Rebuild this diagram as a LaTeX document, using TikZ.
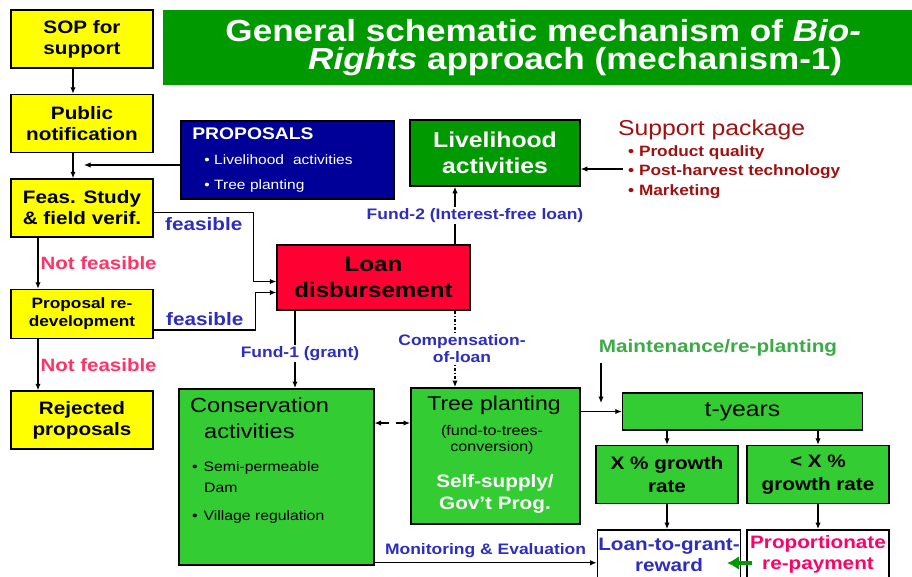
\documentclass[tikz,border=0pt]{standalone}
\usepackage{fontspec}
\setmainfont{Liberation Sans}[FakeStretch=1.15]
\usepackage{tikz}
\usetikzlibrary{calc, positioning, arrows.meta}

\definecolor{boxyellow}{RGB}{255,255,0}
\definecolor{titlegreen}{RGB}{0,153,0}
\definecolor{leafgreen}{RGB}{51,204,51}
\definecolor{loanred}{RGB}{255,0,51}
\definecolor{propblue}{RGB}{0,0,153}
\definecolor{lblblue}{RGB}{45,45,190}
\definecolor{nfpink}{RGB}{255,51,102}
\definecolor{prpink}{RGB}{255,0,102}
\definecolor{suppred}{RGB}{160,16,16}
\definecolor{maintgreen}{RGB}{60,170,70}

\begin{document}
\begin{tikzpicture}
		[x=1pt, y=-1pt,
		box/.style={rectangle, draw=black, line width=1.5pt, align=center, inner sep=1pt},
		sidebox/.style={box, fill=boxyellow, minimum width=142pt, minimum height=58pt,
			font=\fontsize{18}{21}\selectfont\bfseries},
		greenbox/.style={box, fill=leafgreen},
		lbl/.style={font=\fontsize{15.2}{17}\selectfont\bfseries, text=lblblue, align=center, inner sep=1pt},
		feaslbl/.style={font=\fontsize{18}{20}\selectfont\bfseries, text=lblblue, inner sep=1pt},
		nflbl/.style={font=\fontsize{17.8}{20}\selectfont\bfseries, text=nfpink, inner sep=1pt},
		arr/.style={-{Latex[length=6.5pt,width=5.5pt]}, line width=1.2pt},
		garr/.style={-{Latex[length=12pt,width=14pt]}, line width=4pt, titlegreen}]
		\useasboundingbox (0,0) rectangle (912,576);

		% nodes %
		\node[fill=titlegreen, anchor=north west, minimum width=760pt, minimum height=75pt, text=white,
			align=center, font=\fontsize{30.5}{28}\selectfont\bfseries] (title) at (163,10)
			{General schematic mechanism of \textit{Bio-}\\\hspace*{64pt}\textit{Rights} approach (mechanism-1)};

		\node[sidebox] (sop) at (82,39) {SOP for\\support};
		\node[sidebox, below=25pt of sop] (pub) {Public\\notification};
		\node[sidebox, below=25pt of pub] (feas) {Feas. Study\\\& field verif.};
		\node[sidebox, below=51pt of feas, minimum height=49pt, font=\fontsize{15}{18}\selectfont\bfseries] (redev) {Proposal re-\\development};
		\node[sidebox, below=51pt of redev] (rej) {Rejected\\proposals};

		\node[box, fill=propblue, anchor=north west, minimum width=213pt, minimum height=78pt, text width=190pt,
			align=left, text=white, font=\fontsize{13.5}{25}\selectfont] (props) at (180,120)
			{{\fontsize{16.8}{19}\selectfont\bfseries PROPOSALS}\\
			\hspace*{12pt}\textbullet\ Livelihood\ \ activities\\
			\hspace*{12pt}\textbullet\ Tree planting};

		\node[box, fill=titlegreen, text=white, minimum width=170pt, minimum height=66pt,
			font=\fontsize{21.5}{26}\selectfont\bfseries] (liv) at (495,153) {Livelihood\\activities};

		\node[anchor=base west, inner sep=0pt, text=suppred, font=\fontsize{21.5}{24}\selectfont] (supp) at (618,135) {Support package};
		\node[anchor=north west, inner sep=0pt, align=left, text=suppred, font=\fontsize{15}{19.5}\selectfont\bfseries] (supplist) at (628,145)
			{\textbullet\ Product quality\\\textbullet\ Post-harvest technology\\\textbullet\ Marketing};

		\node[box, fill=loanred, minimum width=193pt, minimum height=65pt,
			font=\fontsize{21}{26}\selectfont\bfseries] (loan) at (373.5,277.5) {Loan\\disbursement};

		\node[greenbox, anchor=north west, minimum width=195pt, minimum height=176pt] (cons) at (178,388) {};
		\node[anchor=north west, inner sep=0pt, align=left, font=\fontsize{20.5}{26}\selectfont] (constxt) at (190,397)
			{Conservation\\\hspace*{14pt}activities};
		\node[anchor=north west, inner sep=0pt, align=left, font=\fontsize{13.7}{21}\selectfont] (consbul) at (192,461)
			{\textbullet\hspace{6pt}Semi-permeable\\\hspace*{12pt}Dam\\[7pt]\textbullet\hspace{6pt}Village regulation};

		\node[greenbox, anchor=north west, minimum width=169pt, minimum height=136pt] (tree) at (410,387) {};
		\node[anchor=base, inner sep=0pt, font=\fontsize{20}{24}\selectfont] (treetxt) at (494,410) {Tree planting};
		\node[inner sep=0pt, align=center, font=\fontsize{14}{15.5}\selectfont] (treeconv) at (492,440) {(fund-to-trees-\\conversion)};
		\node[inner sep=0pt, align=center, text=white, font=\fontsize{18}{22}\selectfont\bfseries] (treeself) at (495,494) {Self-supply/\\Gov’t Prog.};

		\node[greenbox, minimum width=240pt, minimum height=37pt, font=\fontsize{21.5}{24}\selectfont] (tyr) at (742.5,411.5) {t-years};
		\node[greenbox, minimum width=142pt, minimum height=58pt, font=\fontsize{18}{23}\selectfont\bfseries] (xgr) at (667,474.5) {X \% growth\\rate};
		\node[greenbox, minimum width=142pt, minimum height=58pt, font=\fontsize{18}{23}\selectfont\bfseries] (lgr) at (818,474.5) {< X \%\\growth rate};
		\node[box, fill=white, anchor=north, minimum width=143pt, minimum height=50pt, text=lblblue,
			font=\fontsize{18}{21}\selectfont\bfseries] (ltg) at (669,529) {Loan-to-grant-\\reward};
		\node[box, fill=white, anchor=north, minimum width=142pt, minimum height=50pt, text=prpink,
			font=\fontsize{18}{21}\selectfont\bfseries] (pr) at (818,529) {Proportionate\\re-payment};

		\node[inner sep=0pt, text=maintgreen, font=\fontsize{18}{20}\selectfont\bfseries] (maint) at (718,348) {Maintenance/re-planting};

		\coordinate (proptip) at (84,165);
		\coordinate (supstart) at (623,169);
		\coordinate (fx) at (455,0);
		\coordinate (gx) at (295,0);
		\coordinate (dy) at (0,423);
		\coordinate (mtop) at (601,363);
		\coordinate (mtip) at (601,403);
		\coordinate (gtip) at (727,563);
		\coordinate (mon) at ($(ltg.west)+(0,8)$);

		% edges %
		\draw[arr] ([xshift=-9pt]sop.south) -- ([xshift=-9pt]pub.north);
		\draw[arr] ([xshift=-9pt]pub.south) -- ([xshift=-9pt]feas.north);
		\draw[arr] (props.west |- proptip) -- (proptip);
		\draw[arr] ([xshift=-44pt]feas.south) -- node[nflbl, right=1pt] {Not feasible} ([xshift=-44pt]redev.north);
		\draw[arr] ([xshift=-44pt]redev.south) -- node[nflbl, right=1pt] {Not feasible} ([xshift=-44pt]rej.north);
		\draw[arr] ([yshift=-4.5pt]feas.east) -- node[feaslbl, below=3pt] {feasible} ++(100,0) |- ([yshift=-4pt]loan.west);
		\draw[arr] ([yshift=-16pt]redev.east) -- node[feaslbl, above=3pt] {feasible} ++(102,0) |- ([yshift=-15pt]loan.west);
		\draw[arr] (loan.north -| fx) -- node[lbl, fill=white, xshift=20pt] {Fund-2 (Interest-free loan)} (liv.south -| fx);
		\draw[arr] (supstart) -- (liv.east |- supstart);
		\draw[arr] (loan.south -| gx) -- node[lbl, fill=white, xshift=5pt, yshift=-4pt] {Fund-1 (grant)} (cons.north -| gx);
		\draw[arr, dash dot] (loan.south -| fx) -- node[lbl, fill=white, xshift=7pt] {Compensation-\\of-loan} (tree.north -| fx);
		\draw[{Latex[length=6.5pt,width=5.5pt]}-{Latex[length=6.5pt,width=5.5pt]}, line width=1.2pt, dash pattern=on 9pt off 7pt] (cons.east |- dy) -- (tree.west |- dy);
		\draw[arr] (tree.east |- tyr.west) -- (tyr.west);
		\draw[arr] (mtop) -- (mtip);
		\draw[arr] (xgr.north |- tyr.south) -- (xgr.north);
		\draw[arr] (lgr.north |- tyr.south) -- (lgr.north);
		\draw[arr] (xgr.south) -- (xgr.south |- ltg.north);
		\draw[arr] (lgr.south) -- (lgr.south |- pr.north);
		\draw[garr] ($(pr.west |- gtip)+(6,0)$) -- (gtip);
		\draw[arr] (cons.east |- mon) -- node[lbl, above=3pt] {Monitoring \& Evaluation} (mon);
		\end{tikzpicture}
\end{document}
